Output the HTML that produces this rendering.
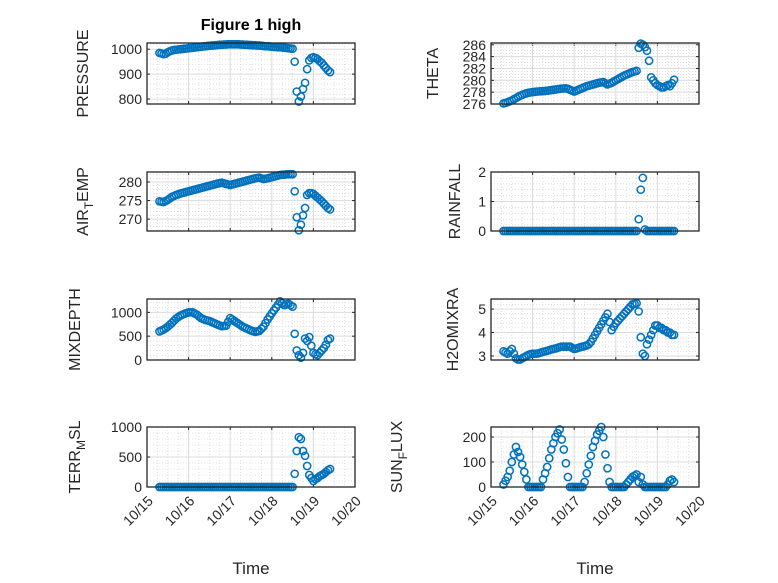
<!DOCTYPE html>
<html><head><meta charset="utf-8">
<style>
html,body{margin:0;padding:0;background:#fff;}
svg{display:block;font-family:"Liberation Sans","DejaVu Sans",sans-serif;}
</style></head>
<body>
<svg id="chart" width="778" height="583" viewBox="0 0 778 583" xmlns="http://www.w3.org/2000/svg">
<rect width="778" height="583" fill="#fff"/>
<text x="251" y="30" text-anchor="middle" font-size="16" font-weight="bold" fill="#000">Figure 1 high</text>
</svg>
<script>
// shared time axis (days of October)
const timesDense = [15.3,15.35,15.4,15.45,15.5, 15.55,15.6,15.65,15.7,15.75, 15.8,15.85,15.9,15.95,16.0,
  16.05,16.1,16.15,16.2,16.25, 16.3,16.35,16.4,16.45,16.5, 16.55,16.6,16.65,16.7,16.75,
  16.8,16.85,16.9,16.95,17.0, 17.05,17.1,17.15,17.2,17.25, 17.3,17.35,17.4,17.45,17.5,
  17.55,17.6,17.65,17.7,17.75, 17.8,17.85,17.9,17.95,18.0, 18.05,18.1,18.15,18.2,18.25,
  18.3,18.35,18.4,18.45,18.5];
const timesSparse = [18.55,18.6,18.65,18.7,18.75,18.8,18.85,18.9,18.95,19.0,19.05,19.1,19.15,19.2,19.25,19.3,19.35,19.4];
const xTickLabels = ["10/15","10/16","10/17","10/18","10/19","10/20"];
const xTickValues = [15,16,17,18,19,20];

const pressure = [985,983,980,982,988, 992,995,997,998,999, 1000,1001,1002,1003,1004,
  1005,1006,1007,1008,1009, 1010,1011,1012,1013,1014, 1015,1015,1016,1017,1018,
  1018,1019,1019,1020,1020, 1020,1020,1020,1020,1019, 1019,1018,1018,1017,1017,
  1016,1016,1015,1015,1014, 1013,1012,1012,1011,1010, 1009,1009,1008,1008,1007,
  1006,1005,1004,1003,1002,
  950,830,790,810,840,865,920,955,965,968,965,960,952,945,935,925,915,908];
const theta = [276.1,276.2,276.3,276.45,276.6, 276.8,277.0,277.2,277.4,277.55, 277.7,277.8,277.9,277.95,278.0,
  278.05,278.1,278.12,278.15,278.18, 278.2,278.25,278.3,278.35,278.4, 278.45,278.5,278.55,278.6,278.62,
  278.65,278.55,278.4,278.25,278.1, 278.25,278.4,278.55,278.7,278.85, 279.0,279.1,279.2,279.3,279.4,
  279.5,279.6,279.65,279.7,279.5, 279.3,279.45,279.6,279.8,280.0, 280.2,280.4,280.6,280.8,280.95,
  281.1,281.25,281.4,281.5,281.6,
  285.5,286.2,286.0,285.6,285.0,283.3,280.5,280.0,279.5,279.2,279.0,278.8,278.8,279.0,279.2,279.0,279.5,280.1];
const airTemp = [274.8,274.7,274.6,274.9,275.2, 275.6,276.0,276.25,276.5,276.7, 276.9,277.05,277.2,277.35,277.5,
  277.65,277.8,277.95,278.1,278.25, 278.4,278.55,278.7,278.85,279.0, 279.15,279.3,279.45,279.6,279.7,
  279.8,279.65,279.5,279.35,279.2, 279.35,279.5,279.65,279.8,279.95, 280.1,280.25,280.4,280.55,280.7,
  280.85,281.0,281.1,281.2,281.0, 280.8,280.9,281.0,281.15,281.3, 281.45,281.6,281.75,281.9,281.95,
  282.0,282.05,282.1,282.1,282.1,
  277.5,270.5,267,268.5,271,273,276.5,277,277,276.8,276.3,275.8,275.3,274.8,274.2,273.6,273,272.6];
const rainfall = [0,0,0,0,0, 0,0,0,0,0, 0,0,0,0,0, 0,0,0,0,0, 0,0,0,0,0, 0,0,0,0,0, 0,0,0,0,0,
  0,0,0,0,0, 0,0,0,0,0, 0,0,0,0,0, 0,0,0,0,0, 0,0,0,0,0, 0,0,0,0,0,
  0.4,1.4,1.8,0.05,0,0,0,0,0,0,0,0,0,0,0,0,0,0];
const mixDepth = [600,620,640,670,700, 740,780,825,870,900, 930,950,970,985,1000,
  1000,1000,975,950,915, 880,860,840,830,820, 800,780,760,740,725,
  710,715,720,800,880, 850,820,790,760,730, 700,680,660,640,620,
  605,590,600,610,655, 700,775,850,915,980, 1040,1100,1165,1230,1190,
  1150,1165,1180,1150,1120,
  550,200,100,50,150,450,400,480,300,150,120,100,150,200,250,320,420,450];
const h2oMix = [3.2,3.15,3.1,3.2,3.3, 3.1,2.9,2.85,2.85,2.9, 2.95,3.0,3.05,3.08,3.1,
  3.1,3.1,3.12,3.15,3.18, 3.2,3.22,3.25,3.28,3.3, 3.32,3.35,3.38,3.4,3.4,
  3.4,3.4,3.4,3.35,3.3, 3.32,3.35,3.38,3.4,3.42, 3.45,3.5,3.6,3.75,3.9,
  4.05,4.2,4.35,4.5,4.65, 4.8,4.45,4.1,4.25,4.4, 4.5,4.6,4.7,4.8,4.9,
  5.0,5.1,5.2,5.22,5.25,
  4.9,3.8,3.1,3.0,3.5,3.7,3.9,4.1,4.3,4.3,4.2,4.2,4.1,4.1,4.0,4.0,3.9,3.9];
const terrMsl = [0,0,0,0,0, 0,0,0,0,0, 0,0,0,0,0, 0,0,0,0,0, 0,0,0,0,0, 0,0,0,0,0, 0,0,0,0,0,
  0,0,0,0,0, 0,0,0,0,0, 0,0,0,0,0, 0,0,0,0,0, 0,0,0,0,0, 0,0,0,0,0,
  220,600,830,800,600,520,350,200,150,100,130,150,180,200,220,250,280,300];
const sunFlux = [10,25,40,65,100, 130,160,140,120,90, 60,30,0,0,0,
  0,0,0,0,30, 55,80,115,150,175, 200,215,230,190,150,
  95,40,0,0,0, 0,0,0,0,20, 55,90,125,160,185,
  210,225,240,200,130, 75,20,0,0,0, 0,0,0,0,10,
  20,30,40,45,50,
  20,40,10,0,0,0,0,0,0,0,0,0,0,0,10,25,30,20];

const times = timesDense.concat(timesSparse);
const NS = "http://www.w3.org/2000/svg";
const svg = document.getElementById('chart');
function mk(tag, attrs, parent){
  const e = document.createElementNS(NS, tag);
  for (const k in attrs) e.setAttribute(k, attrs[k]);
  (parent||svg).appendChild(e);
  return e;
}
const cols = [[147,355],[491,699]];
const rows = [[43,104],[172,231],[299,360],[427,487]];
const panels = [
  {id:'pressure', data:pressure, col:0,row:0, ylim:[780,1025], ticks:[800,900,1000], minor:20, label:['PRESSURE'], lx:88},
  {id:'theta', data:theta, col:1,row:0, ylim:[276,286.3], ticks:[276,278,280,282,284,286], minor:0.5, label:['THETA'], lx:438},
  {id:'air-temp', data:airTemp, col:0,row:1, ylim:[266.8,282.7], ticks:[270,275,280], minor:1, label:['AIR','T','EMP'], lx:88},
  {id:'rainfall', data:rainfall, col:1,row:1, ylim:[0,2], ticks:[0,1,2], minor:0.2, label:['RAINFALL'], lx:460},
  {id:'mixdepth', data:mixDepth, col:0,row:2, ylim:[0,1280], ticks:[0,500,1000], minor:100, label:['MIXDEPTH'], lx:80},
  {id:'h2omixra', data:h2oMix, col:1,row:2, ylim:[2.83,5.43], ticks:[3,4,5], minor:0.2, label:['H2OMIXRA'], lx:458},
  {id:'terr-msl', data:terrMsl, col:0,row:3, ylim:[0,1000], ticks:[0,500,1000], minor:100, label:['TERR','M','SL'], lx:80},
  {id:'sun-flux', data:sunFlux, col:1,row:3, ylim:[0,240], ticks:[0,100,200], minor:20, label:['SUN','F','LUX'], lx:402}
];
panels.forEach(p=>{
  const [x0,x1]=cols[p.col], [y0,y1]=rows[p.row];
  const xs = t => x0 + (t-15)/5*(x1-x0);
  const ys = v => y1 - (v-p.ylim[0])/(p.ylim[1]-p.ylim[0])*(y1-y0);
  const g = mk('g',{});
  
  
  mk('rect',{x:x0,y:y0,width:x1-x0,height:y1-y0,fill:'#fff'},g);
  for (let t=15; t<=20.001; t+=0.25){ const x=xs(t); mk('line',{x1:x,x2:x,y1:y0,y2:y1,stroke:'#ccc','stroke-width':0.6,'stroke-dasharray':'1,2'},g); }
  const ms = Math.ceil(p.ylim[0]/p.minor)*p.minor;
  for (let v=ms; v<=p.ylim[1]+1e-9; v+=p.minor){ const y=ys(v); mk('line',{x1:x0,x2:x1,y1:y,y2:y,stroke:'#ccc','stroke-width':0.6,'stroke-dasharray':'1,2'},g); }
  xTickValues.forEach(t=>{ const x=xs(t); mk('line',{x1:x,x2:x,y1:y0,y2:y1,stroke:'#dcdcdc','stroke-width':1},g);
    mk('line',{x1:x,x2:x,y1:y1,y2:y1-3,stroke:'#262626','stroke-width':1},g);
    mk('line',{x1:x,x2:x,y1:y0,y2:y0+3,stroke:'#262626','stroke-width':1},g); });
  p.ticks.forEach(v=>{ const y=ys(v); mk('line',{x1:x0,x2:x1,y1:y,y2:y,stroke:'#dcdcdc','stroke-width':1},g);
    mk('line',{x1:x0,x2:x0+3,y1:y,y2:y,stroke:'#262626','stroke-width':1},g);
    mk('line',{x1:x1,x2:x1-3,y1:y,y2:y,stroke:'#262626','stroke-width':1},g);
    const tl = mk('text',{x:x0-5,y:y+5,'text-anchor':'end','font-size':14,fill:'#262626'},g);
    tl.textContent = String(v);
    
    
  });
  const pg = mk('g',{},g);
  
  
  p.data.forEach((v,i)=>{
    const c = mk('circle',{cx:xs(times[i]),cy:ys(v),r:3.6,fill:'none',stroke:'#0072BD','stroke-width':1.5},pg);
    
    
  });
  mk('rect',{x:x0,y:y0,width:x1-x0,height:y1-y0,fill:'none',stroke:'#262626','stroke-width':1.3},g);
  const cy=(y0+y1)/2;
  const lab = mk('text',{x:p.lx,y:cy,'text-anchor':'middle','font-size':16,fill:'#262626',transform:`rotate(-90 ${p.lx} ${cy})`},g);
  
  
  if (p.label.length===1){ lab.textContent=p.label[0]; }
  else {
    const a=mk('tspan',{},lab); a.textContent=p.label[0];
    const b=mk('tspan',{dy:5,'font-size':12},lab); b.textContent=p.label[1];
    const c=mk('tspan',{dy:-5},lab); c.textContent=p.label[2];
  }
  if (p.row===3){
    xTickValues.forEach((t,i)=>{ const x=xs(t)+4, y=y1+12;
      const tl = mk('text',{x:x,y:y+4,'text-anchor':'end','font-size':14,fill:'#262626',transform:`rotate(-45 ${x} ${y})`},g);
      tl.textContent = xTickLabels[i];
      
      
    });
    const xt = mk('text',{x:(x0+x1)/2,y:574,'text-anchor':'middle','font-size':17,fill:'#262626'},g);
    xt.textContent='Time';
    
    
  }
});
</script>
</body></html>
